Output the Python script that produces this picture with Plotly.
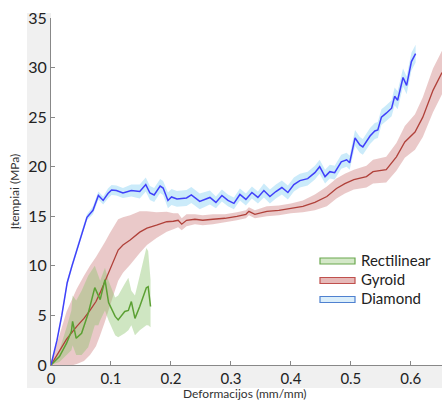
import plotly.graph_objects as go

# Diamond: mean stress-strain curve and spread
diamond_x = [0, 0.01, 0.018, 0.027, 0.035, 0.043, 0.05, 0.06, 0.07, 0.079, 0.087, 0.095,
             0.101, 0.109, 0.12, 0.134, 0.148, 0.158, 0.165, 0.172, 0.182, 0.187, 0.195,
             0.201, 0.21, 0.226, 0.234, 0.248, 0.265, 0.275, 0.285, 0.295, 0.305, 0.315,
             0.325, 0.335, 0.345, 0.355, 0.365, 0.375, 0.385, 0.395, 0.405, 0.415, 0.428,
             0.44, 0.448, 0.457, 0.465, 0.473, 0.484, 0.493, 0.498, 0.507, 0.515, 0.52,
             0.532, 0.54, 0.545, 0.551, 0.559, 0.568, 0.573, 0.578, 0.587, 0.593, 0.601, 0.608]
diamond_y = [0, 2.5, 5.0, 8.3, 10.0, 11.6, 13.0, 14.9, 15.6, 17.1, 16.6, 17.3,
             17.65, 17.6, 17.35, 17.6, 17.5, 18.2, 17.35, 17.15, 18.05, 17.85, 16.6,
             16.95, 16.75, 16.85, 17.15, 16.5, 16.9, 16.4, 17.1, 16.6, 16.3, 17.2,
             16.7, 17.4, 16.9, 17.6, 17.0, 17.5, 17.9, 17.4, 18.2, 18.6, 18.8,
             19.4, 20.0, 19.0, 19.5, 19.4, 20.5, 20.7, 20.4, 22.9, 22.2, 22.0,
             23.1, 23.6, 23.7, 25.0, 25.4, 25.9, 27.1, 26.7, 29.0, 28.2, 30.6, 31.4]
diamond_sd = [0, 0.2, 0.3, 0.3, 0.3, 0.3, 0.3, 0.3, 0.4, 0.4, 0.4, 0.5,
              0.5, 0.5, 0.5, 0.6, 0.7, 0.7, 0.7, 0.7, 0.7, 0.7, 0.8,
              0.8, 0.8, 0.8, 0.8, 0.8, 0.7, 0.6, 0.6, 0.6, 0.6, 0.6,
              0.6, 0.6, 0.6, 0.7, 0.7, 0.7, 0.7, 0.7, 0.7, 0.7, 0.7,
              0.7, 0.7, 0.7, 0.7, 0.7, 0.7, 0.7, 0.7, 0.8, 0.8, 0.8,
              0.8, 0.8, 0.8, 0.8, 0.8, 0.8, 0.9, 0.9, 0.9, 0.9, 0.9, 0.9]

# Gyroid
gyroid_x = [0, 0.013, 0.026, 0.043, 0.055, 0.065, 0.075, 0.082, 0.09, 0.098, 0.105, 0.112,
            0.12, 0.132, 0.148, 0.16, 0.176, 0.193, 0.204, 0.212, 0.218, 0.226, 0.24,
            0.253, 0.27, 0.29, 0.31, 0.325, 0.33, 0.34, 0.36, 0.38, 0.40, 0.42, 0.44,
            0.46, 0.476, 0.49, 0.505, 0.526, 0.537, 0.559, 0.576, 0.59, 0.607, 0.62,
            0.637, 0.652]
gyroid_y = [0, 1.3, 2.6, 3.9, 4.7, 5.5, 6.4, 7.3, 8.4, 9.6, 10.6, 11.6,
            12.1, 12.6, 13.4, 13.8, 14.1, 14.45, 14.5, 14.6, 14.2, 14.6, 14.7,
            14.6, 14.7, 14.8, 15.0, 15.2, 15.5, 15.2, 15.5, 15.6, 15.8, 16.0, 16.4,
            17.0, 17.8, 18.3, 18.7, 19.0, 19.5, 19.7, 21.0, 22.5, 23.5, 25.0,
            27.7, 29.5]
gyroid_sd = [0.3, 1.5, 2.8, 3.8, 4.3, 4.5, 4.5, 4.3, 4.0, 3.7, 3.4, 3.1,
             2.8, 2.5, 2.1, 1.7, 1.3, 1.0, 0.8, 0.7, 0.6, 0.6, 0.5,
             0.5, 0.5, 0.4, 0.4, 0.4, 0.4, 0.4, 0.5, 0.5, 0.5, 0.6, 0.8,
             1.0, 1.0, 1.0, 1.0, 1.1, 1.2, 1.3, 1.4, 1.6, 1.8, 2.0,
             2.2, 2.2]

# Rectilinear
rect_x = [0, 0.014, 0.026, 0.034, 0.036, 0.042, 0.051, 0.062, 0.073, 0.079, 0.082, 0.09,
          0.096, 0.107, 0.112, 0.123, 0.129, 0.134, 0.14, 0.148, 0.159, 0.162, 0.166]
rect_y = [0, 0.85, 2.2, 3.4, 4.4, 2.7, 3.2, 5.2, 7.8, 6.9, 6.6, 8.6,
          6.3, 4.9, 4.55, 5.4, 5.5, 6.4, 4.7, 5.9, 7.8, 7.9, 5.9]
rect_lo = [0, 0.3, 1.0, 1.5, 2.0, 1.0, 1.0, 1.8, 4.0, 4.0, 4.5, 5.5,
           4.5, 3.0, 2.8, 3.2, 3.5, 4.0, 3.0, 3.5, 4.0, 4.0, 3.8]
rect_hi = [0, 1.5, 3.8, 5.5, 7.0, 6.5, 7.5, 9.0, 10.0, 9.0, 8.5, 9.8,
           8.5, 6.8, 7.0, 8.2, 8.8, 7.5, 7.0, 9.0, 11.8, 11.5, 8.6]

series_names = ["Rectilinear", "Gyroid", "Diamond"]
line_colors = {"Rectilinear": "#5ba033", "Gyroid": "#b0413a", "Diamond": "#4040fa"}
band_colors = {"Rectilinear": "rgba(140,195,110,0.42)",
               "Gyroid": "rgba(200,112,112,0.38)",
               "Diamond": "rgba(140,210,245,0.45)"}
swatch_fill = {"Rectilinear": "#d4e8c8", "Gyroid": "#e6b9b8", "Diamond": "#dbeefa"}
swatch_line = {"Rectilinear": "#6aa84f", "Gyroid": "#c0504d", "Diamond": "#4f81d0"}

xticks = [0, 0.1, 0.2, 0.3, 0.4, 0.5, 0.6]
yticks = [0, 5, 10, 15, 20, 25, 30, 35]

fig = go.Figure()


def add_band(x, lo, hi, name):
    fig.add_trace(go.Scatter(x=list(x) + list(x)[::-1], y=list(hi) + list(lo)[::-1],
                             fill="toself", fillcolor=band_colors[name], mode="none",
                             hoverinfo="skip", showlegend=False))


def add_line(x, y, name, width=1.4):
    fig.add_trace(go.Scatter(x=x, y=y, mode="lines", name=name,
                             line=dict(color=line_colors[name], width=width),
                             showlegend=False))


add_band(gyroid_x, [m - s for m, s in zip(gyroid_y, gyroid_sd)],
         [m + s for m, s in zip(gyroid_y, gyroid_sd)], "Gyroid")
add_band(diamond_x, [m - s for m, s in zip(diamond_y, diamond_sd)],
         [m + s for m, s in zip(diamond_y, diamond_sd)], "Diamond")
add_band(rect_x, rect_lo, rect_hi, "Rectilinear")
add_line(gyroid_x, gyroid_y, "Gyroid", 1.3)
add_line(rect_x, rect_y, "Rectilinear", 1.5)
add_line(diamond_x, diamond_y, "Diamond", 1.5)

# plot area geometry in pixels
L, R, T, B = 51, 442, 18, 365
W, H = R - L, B - T


def px(xp):
    return (xp - L) / W


def py(yp):
    return (B - yp) / H


shapes = [
    # light grey strips behind the tick labels
    dict(type="rect", xref="paper", yref="paper", x0=px(27), x1=px(L), y0=py(388), y1=py(13),
         fillcolor="#f0f0f0", line=dict(width=0), layer="below"),
    dict(type="rect", xref="paper", yref="paper", x0=px(L), x1=px(R), y0=py(388), y1=py(B),
         fillcolor="#f0f0f0", line=dict(width=0), layer="below"),
]
annotations = []
legend_rows = [261, 280.5, 299.5]
for name, yc in zip(series_names, legend_rows):
    shapes.append(dict(type="rect", xref="paper", yref="paper",
                       x0=px(320), x1=px(355), y0=py(yc + 3), y1=py(yc - 3),
                       fillcolor=swatch_fill[name], line=dict(color=swatch_line[name], width=1.2)))
    annotations.append(dict(text=name, xref="paper", yref="paper", x=px(359), y=py(yc - 1.5),
                            xanchor="left", yanchor="middle", showarrow=False,
                            font=dict(family="Lato", size=15, color="#222222")))

# x axis title, set just under the tick labels
annotations.append(dict(text="Deformacijos (mm/mm)", xref="paper", yref="paper",
                        x=px(245), y=py(393), xanchor="center", yanchor="middle",
                        showarrow=False,
                        font=dict(family="Lato", size=12, color="#333333")))

fig.update_layout(
    width=442, height=401,
    margin=dict(l=L, r=442 - R, t=T, b=401 - B),
    paper_bgcolor="white", plot_bgcolor="white",
    shapes=shapes, annotations=annotations,
    showlegend=False,
    font=dict(family="Lato", color="#222222"),
)
fig.update_xaxes(range=[0, 0.652], tickvals=xticks, ticktext=[str(v) for v in xticks],
                 ticks="inside", ticklen=4, tickcolor="#888888", showline=True,
                 linecolor="#888888", linewidth=1, showgrid=False, zeroline=False,
                 tickfont=dict(family="Lato", size=15, color="#222222"))
fig.update_yaxes(range=[0, 35], tickvals=yticks, ticks="inside", ticklen=4,
                 tickcolor="#888888", showline=True, linecolor="#888888", linewidth=1,
                 showgrid=False, zeroline=False,
                 tickfont=dict(family="Lato", size=16, color="#222222"),
                 title=dict(text="Įtempiai (MPa)", standoff=6,
                            font=dict(family="Lato", size=12, color="#333333")))

fig.write_html("out.html")
